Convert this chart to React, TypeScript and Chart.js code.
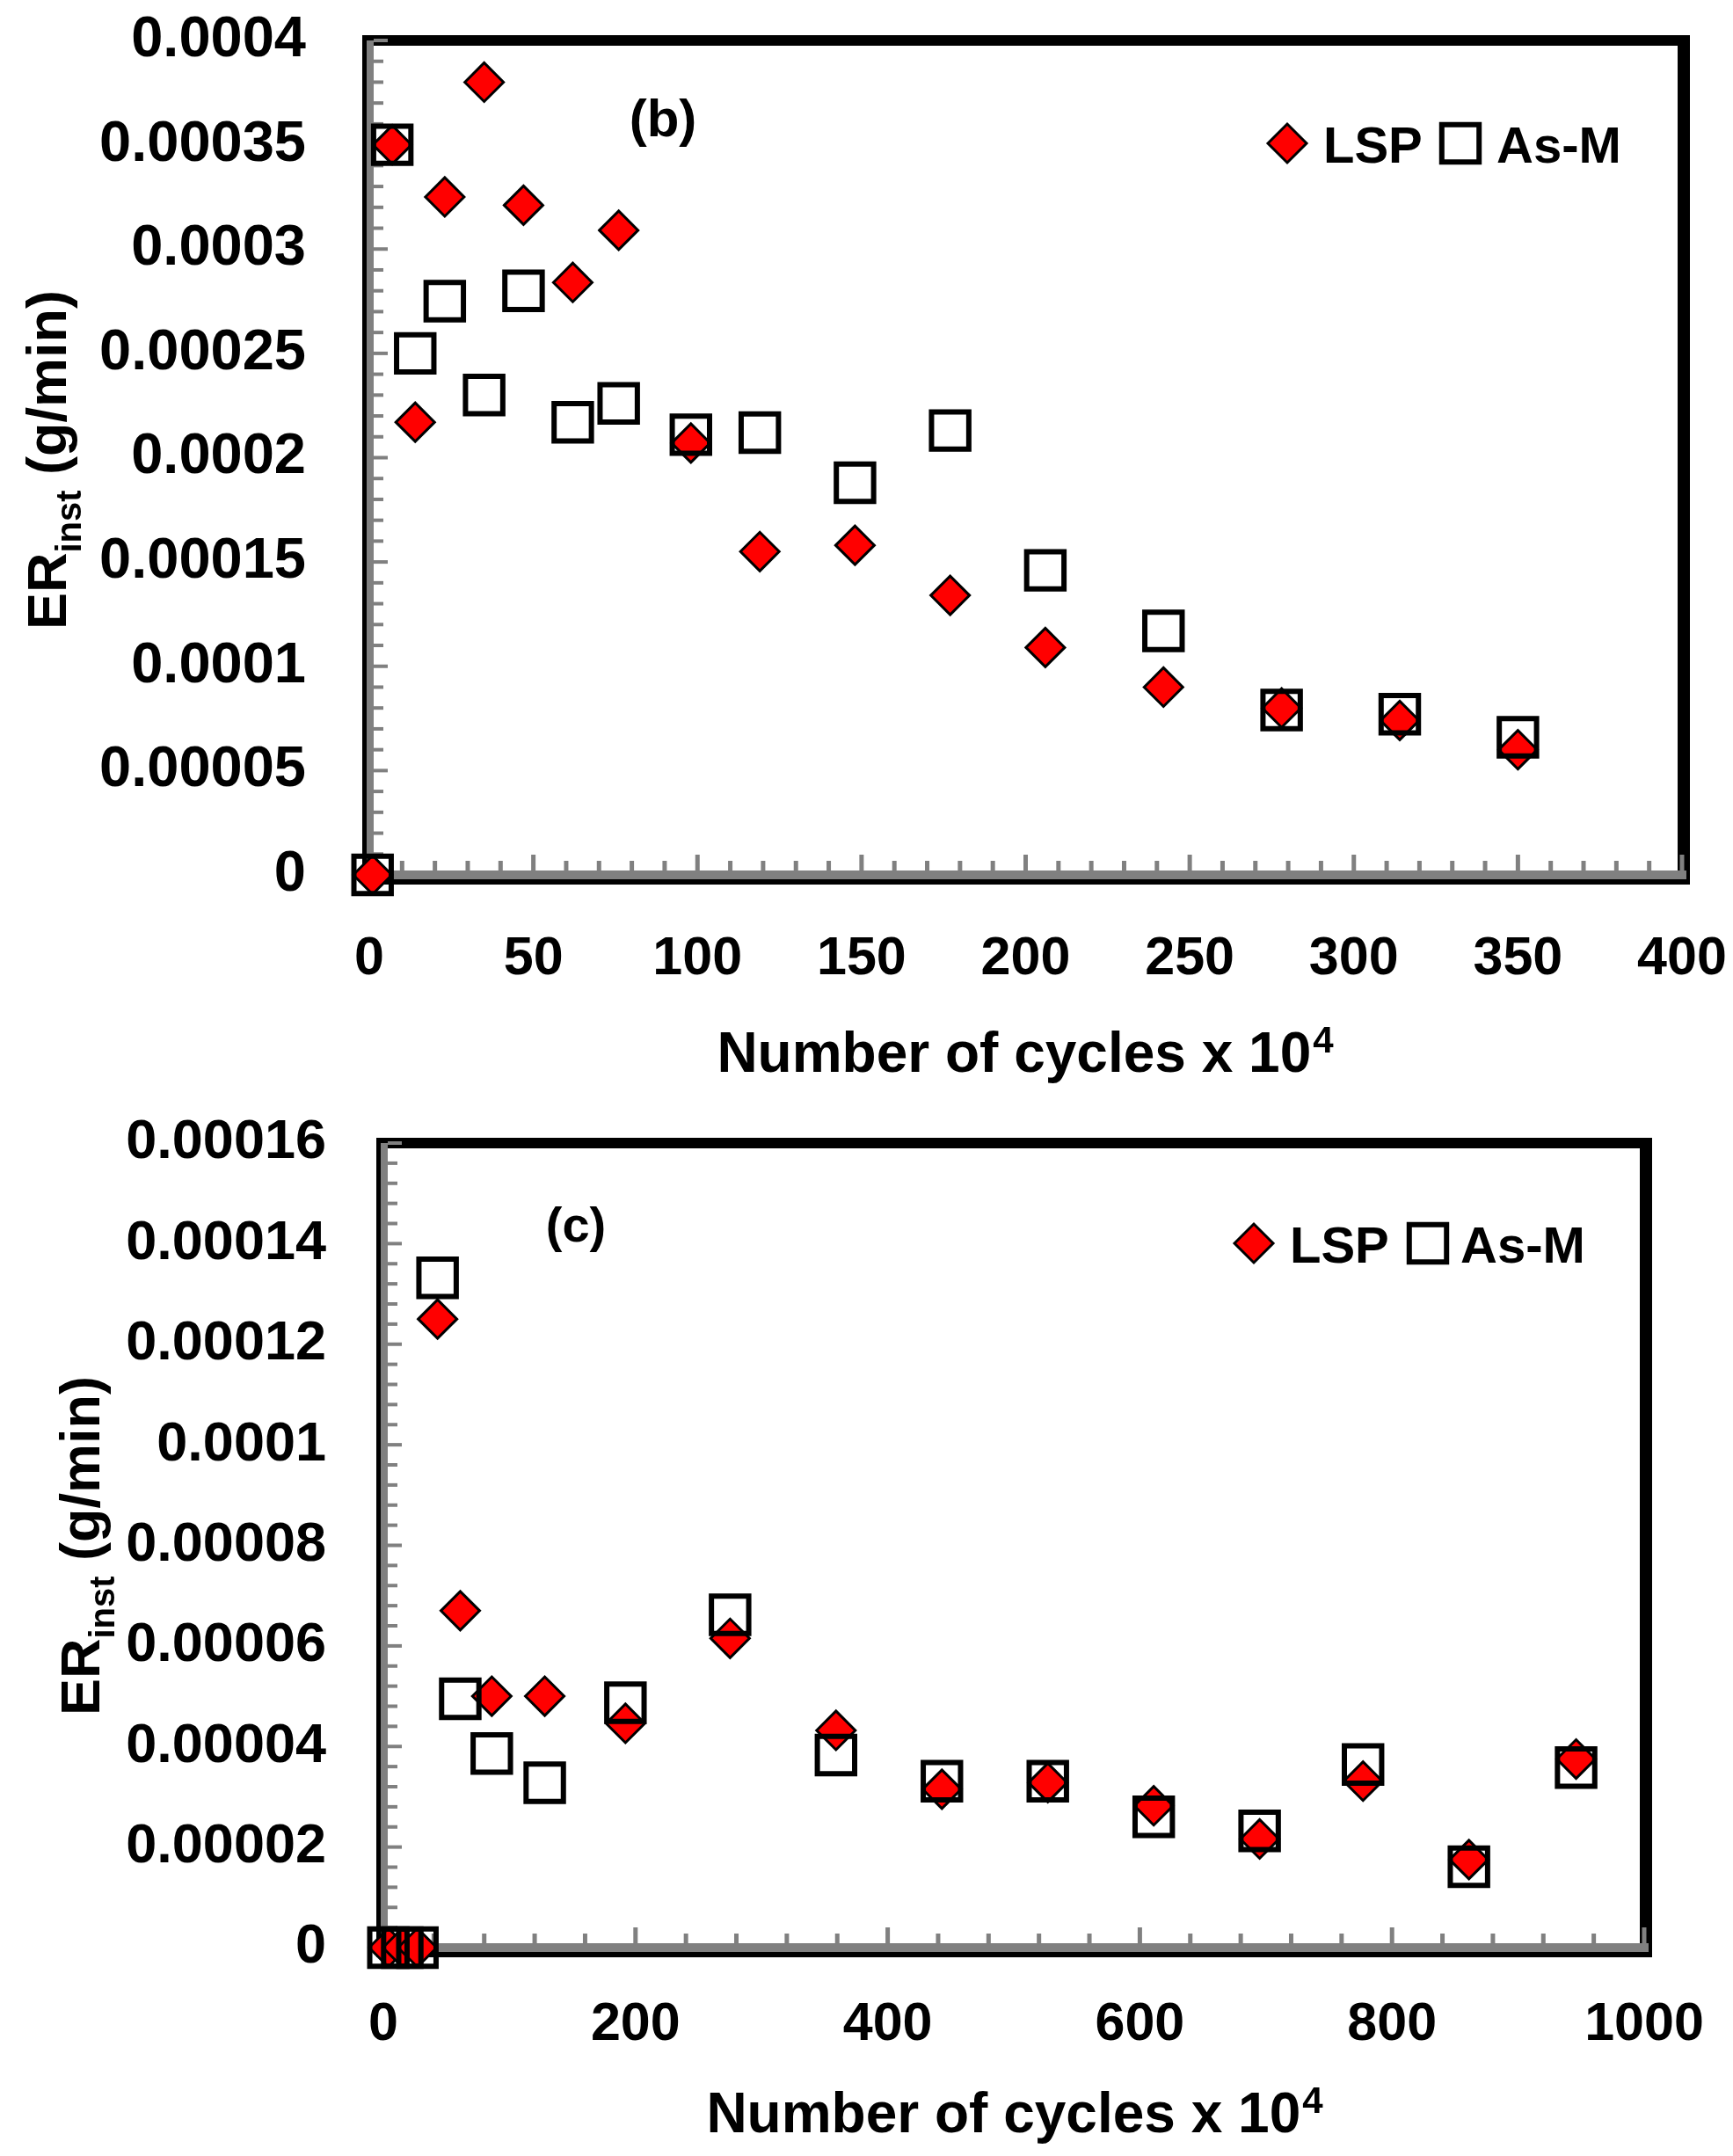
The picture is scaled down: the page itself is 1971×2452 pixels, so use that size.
import React, { useEffect, useRef } from "react";
import { Chart, registerables } from "chart.js";

Chart.register(...registerables);

const FONT = "'Liberation Sans', Arial, sans-serif";
const GREY = "#808080";

// ---------- Panel (b) data ----------
const bCycles = [1, 7, 14, 23, 35, 47, 62, 76, 98, 119, 148, 177, 206, 242, 278, 314, 350];
const bLSP = [0, 0.00035, 0.000217, 0.000325, 0.00038, 0.000321, 0.000284, 0.000309, 0.000207, 0.000155, 0.000158, 0.000134, 0.000109, 0.00009, 0.00008, 0.000074, 0.00006];
const bAsM = [0, 0.00035, 0.00025, 0.000275, 0.00023, 0.00028, 0.000217, 0.000226, 0.000211, 0.000212, 0.000188, 0.000213, 0.000146, 0.000117, 0.000079, 0.000077, 0.000066];
const bXTicks = ["0", "50", "100", "150", "200", "250", "300", "350", "400"];
const bYTicks = ["0", "0.00005", "0.0001", "0.00015", "0.0002", "0.00025", "0.0003", "0.00035", "0.0004"];

// ---------- Panel (c) data ----------
const cCycles = [4, 15, 27, 43, 61, 86, 128, 192, 275, 359, 443, 527, 611, 695, 777, 861, 946];
const cLSP = [0, 0, 0, 0.000125, 0.000067, 0.00005, 0.00005, 0.0000446, 0.0000615, 0.0000432, 0.0000315, 0.0000328, 0.0000282, 0.0000216, 0.0000331, 0.0000175, 0.0000375];
const cAsM = [0, 0, 0, 0.0001332, 0.0000495, 0.0000386, 0.0000328, 0.0000487, 0.0000662, 0.0000383, 0.0000331, 0.0000331, 0.000026, 0.0000232, 0.0000364, 0.0000161, 0.0000358];
const cXTicks = ["0", "200", "400", "600", "800", "1000"];
const cYTicks = ["0", "0.00002", "0.00004", "0.00006", "0.00008", "0.0001", "0.00012", "0.00014", "0.00016"];

const seriesNames = ["LSP", "As-M"];
const xTitleMain = "Number of cycles x 10";
const xTitleSup = "4";

type Panel = {
  tag: string;
  tagX: number; tagY: number; tagSize: number;
  legY: number; diaX: number; lspX: number; sqX: number; asmX: number; legTextY: number;
  yTitleX: number; yTitleY: number;
  xTitleX: number; xTitleY: number;
  xMinor: number; xMajor: number; yMinor: number; yMajor: number;
};

const DIA_R = 22;
const SQ_R = 30;

function drawDiamond(ctx: CanvasRenderingContext2D, x: number, y: number) {
  ctx.beginPath();
  ctx.moveTo(x - DIA_R, y);
  ctx.lineTo(x, y - DIA_R);
  ctx.lineTo(x + DIA_R, y);
  ctx.lineTo(x, y + DIA_R);
  ctx.closePath();
  ctx.fillStyle = "#FF0000";
  ctx.fill();
  ctx.lineWidth = 3;
  ctx.strokeStyle = "#000";
  ctx.stroke();
}

function drawSquare(ctx: CanvasRenderingContext2D, x: number, y: number) {
  const s = SQ_R * Math.SQRT1_2;
  ctx.beginPath();
  ctx.rect(x - s, y - s, 2 * s, 2 * s);
  ctx.lineWidth = 6;
  ctx.strokeStyle = "#000";
  ctx.stroke();
}

function makePlugins(p: Panel) {
  return [
    {
      id: "frame",
      beforeDatasetsDraw(chart: any) {
        const ctx: CanvasRenderingContext2D = chart.ctx;
        const { left: L, right: R, top: T, bottom: B } = chart.chartArea;
        const xs = chart.scales.x;
        const ys = chart.scales.y;
        ctx.save();
        ctx.fillStyle = "#000";
        ctx.fillRect(L - 8, T - 6, R - L + 17, 12);
        ctx.fillRect(R - 5, T - 6, 14, B - T + 17);
        ctx.fillRect(L - 8, T - 6, 5, B - T + 17);
        ctx.fillRect(L - 8, B + 5, R - L + 17, 6);
        ctx.fillStyle = GREY;
        ctx.fillRect(L - 3, T, 8, B - T + 5);
        ctx.fillRect(L - 3, B - 5, R - L + 8, 10);
        const ny = Math.round((ys.max - ys.min) / p.yMinor);
        const ry = Math.round(p.yMajor / p.yMinor);
        for (let i = 0; i <= ny; i++) {
          const y = ys.getPixelForValue(ys.min + i * p.yMinor);
          const len = i % ry === 0 ? 16 : 11;
          ctx.fillRect(L + 5, y - 2, len, 4);
        }
        const nx = Math.round((xs.max - xs.min) / p.xMinor);
        const rx = Math.round(p.xMajor / p.xMinor);
        for (let i = 0; i <= nx; i++) {
          const x = xs.getPixelForValue(xs.min + i * p.xMinor);
          const len = i % rx === 0 ? 18 : 11;
          ctx.fillRect(x - 2.5, B - 5 - len, 5, len);
        }
        ctx.restore();
      },
      afterDatasetsDraw(chart: any) {
        const ctx: CanvasRenderingContext2D = chart.ctx;
        ctx.save();
        ctx.fillStyle = "#000";
        // panel tag
        ctx.font = `bold ${p.tagSize}px ${FONT}`;
        ctx.textAlign = "center";
        ctx.textBaseline = "middle";
        ctx.fillText(p.tag, p.tagX, p.tagY);
        // legend
        drawDiamond(ctx, p.diaX, p.legY);
        drawSquare(ctx, p.sqX, p.legY);
        ctx.fillStyle = "#000";
        ctx.font = `bold 58px ${FONT}`;
        ctx.textAlign = "left";
        ctx.textBaseline = "alphabetic";
        ctx.fillText(seriesNames[0], p.lspX, p.legTextY);
        ctx.fillText(seriesNames[1], p.asmX, p.legTextY);
        // x title
        const big = `bold 64px ${FONT}`;
        const sup = `bold 42px ${FONT}`;
        ctx.font = big;
        const wm = ctx.measureText(xTitleMain).width;
        ctx.font = sup;
        const ws = ctx.measureText(xTitleSup).width;
        const x0 = p.xTitleX - (wm + ws) / 2;
        ctx.font = big;
        ctx.fillText(xTitleMain, x0, p.xTitleY);
        ctx.font = sup;
        ctx.fillText(xTitleSup, x0 + wm + 2, p.xTitleY - 22);
        // y title
        ctx.translate(p.yTitleX, p.yTitleY);
        ctx.rotate(-Math.PI / 2);
        const yb = `bold 63px ${FONT}`;
        const ysml = `bold 40px ${FONT}`;
        ctx.font = yb;
        const w1 = ctx.measureText("ER").width;
        const w3 = ctx.measureText(" (g/min)").width;
        ctx.font = ysml;
        const w2 = ctx.measureText("inst").width;
        let tx = -(w1 + w2 + w3) / 2;
        ctx.font = yb;
        ctx.fillText("ER", tx, 0);
        tx += w1;
        ctx.font = ysml;
        ctx.fillText("inst", tx, 17);
        tx += w2;
        ctx.font = yb;
        ctx.fillText(" (g/min)", tx, 0);
        ctx.restore();
      },
    },
  ];
}

function makeConfig(opts: {
  cycles: number[]; lsp: number[]; asm: number[];
  xMax: number; xStep: number; xLabels: string[];
  yMax: number; yStep: number; yLabels: string[];
  padTop: number; padRight: number; yWidth: number; xHeight: number;
  yPad: number; xPad: number; yFont: number; xFont: number;
  panel: Panel;
}): any {
  return {
    type: "scatter",
    data: {
      datasets: [
        {
          label: seriesNames[0],
          data: opts.cycles.map((x, i) => ({ x, y: opts.lsp[i] })),
          pointStyle: "rectRot",
          pointRadius: DIA_R,
          backgroundColor: "#FF0000",
          borderColor: "#000",
          borderWidth: 3,
          order: 2,
          clip: false,
        },
        {
          label: seriesNames[1],
          data: opts.cycles.map((x, i) => ({ x, y: opts.asm[i] })),
          pointStyle: "rect",
          pointRadius: SQ_R,
          backgroundColor: "rgba(0,0,0,0)",
          borderColor: "#000",
          borderWidth: 6,
          order: 1,
          clip: false,
        },
      ],
    },
    options: {
      responsive: false,
      animation: false,
      devicePixelRatio: 1,
      events: [],
      layout: { padding: { left: 0, right: opts.padRight, top: opts.padTop, bottom: 0 } },
      plugins: { legend: { display: false }, tooltip: { enabled: false } },
      scales: {
        x: {
          type: "linear",
          min: 0,
          max: opts.xMax,
          grid: { display: false, drawTicks: false },
          border: { display: false },
          ticks: {
            stepSize: opts.xStep,
            padding: opts.xPad,
            maxRotation: 0,
            autoSkip: false,
            color: "#000",
            font: { family: FONT, size: opts.xFont, weight: "bold", lineHeight: 1 },
            callback: (v: number) => opts.xLabels[Math.round(v / opts.xStep)] ?? "",
          },
          afterFit: (s: any) => {
            s.height = opts.xHeight;
            s.paddingLeft = 0;
            s.paddingRight = 0;
          },
        },
        y: {
          type: "linear",
          min: 0,
          max: opts.yMax,
          grid: { display: false, drawTicks: false },
          border: { display: false },
          ticks: {
            stepSize: opts.yStep,
            padding: opts.yPad,
            autoSkip: false,
            color: "#000",
            font: { family: FONT, size: opts.yFont, weight: "bold", lineHeight: 1 },
            callback: (v: number) => opts.yLabels[Math.round(v / opts.yStep)] ?? "",
          },
          afterFit: (s: any) => {
            s.width = opts.yWidth;
            s.paddingTop = 0;
            s.paddingBottom = 0;
          },
        },
      },
    },
    plugins: makePlugins(opts.panel),
  };
}

const panelB: Panel = {
  tag: "(b)", tagX: 754, tagY: 138, tagSize: 60,
  legY: 163, diaX: 1464, lspX: 1505, sqX: 1661, asmX: 1702, legTextY: 185,
  yTitleX: 75, yTitleY: 523,
  xTitleX: 1165, xTitleY: 1219,
  xMinor: 10, xMajor: 50, yMinor: 0.00001, yMajor: 0.00005,
};

const panelC: Panel = {
  tag: "(c)", tagX: 655, tagY: 157, tagSize: 56,
  legY: 174, diaX: 1426, lspX: 1467, sqX: 1624, asmX: 1661, legTextY: 196,
  yTitleX: 113, yTitleY: 518,
  xTitleX: 1153, xTitleY: 1185,
  xMinor: 40, xMajor: 200, yMinor: 0.000004, yMajor: 0.00002,
};

const configB = () =>
  makeConfig({
    cycles: bCycles, lsp: bLSP, asm: bAsM,
    xMax: 400, xStep: 50, xLabels: bXTicks,
    yMax: 0.0004, yStep: 0.00005, yLabels: bYTicks,
    padTop: 46, padRight: 58, yWidth: 420, xHeight: 245,
    yPad: 72, xPad: 66, yFont: 65, xFont: 61,
    panel: panelB,
  });

const configC = () =>
  makeConfig({
    cycles: cCycles, lsp: cLSP, asm: cAsM,
    xMax: 1000, xStep: 200, xLabels: cXTicks,
    yMax: 0.00016, yStep: 0.00002, yLabels: cYTicks,
    padTop: 60, padRight: 101, yWidth: 436, xHeight: 237,
    yPad: 65, xPad: 58, yFont: 63, xFont: 61,
    panel: panelC,
  });

function ChartCanvas({ make, top, height }: { make: () => any; top: number; height: number }) {
  const ref = useRef<HTMLCanvasElement>(null);
  useEffect(() => {
    const chart = new Chart(ref.current as HTMLCanvasElement, make());
    return () => chart.destroy();
  }, []);
  return (
    <canvas
      ref={ref}
      width={1971}
      height={height}
      style={{ position: "absolute", left: 0, top, width: 1971, height, display: "block" }}
    />
  );
}

export default function App() {
  return (
    <div style={{ position: "absolute", left: 0, top: 0, width: 1971, height: 2452, background: "#fff" }}>
      <ChartCanvas make={configB} top={0} height={1240} />
      <ChartCanvas make={configC} top={1240} height={1212} />
    </div>
  );
}
